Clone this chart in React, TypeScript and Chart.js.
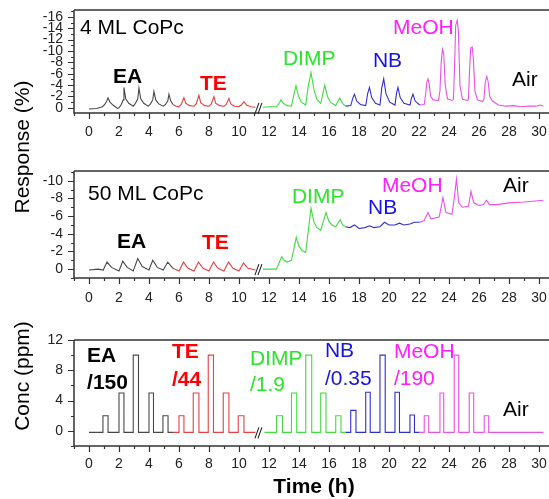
import React, { useEffect, useRef } from "react";
import { Chart, registerables } from "chart.js";
Chart.register(...registerables);

const FONT = "'Liberation Sans', Arial, Helvetica, sans-serif";

// ---------- time axis ----------
const X_MIN = -1;
const X_MAX = 30.67;

// ---------- 4 ML CoPc response (%) ----------
const T4_EA = [0, 0.5, 0.9, 1.05, 1.2, 1.27, 1.4, 1.6, 1.9, 2.0, 2.15, 2.28, 2.33, 2.45, 2.65, 2.95, 3.1, 3.25, 3.33, 3.45, 3.65, 3.95, 4.1, 4.25, 4.33, 4.45, 4.65, 4.95, 5.1, 5.25, 5.33, 5.45, 5.6];
const R4_EA = [0.2, 0.1, -0.2, -0.6, -1.3, -1.75, -1.0, -0.5, 0.1, 0.0, -0.6, -1.4, -3.6, -1.6, -0.8, -0.3, -0.8, -1.6, -3.5, -1.6, -0.8, -0.3, -0.7, -1.4, -2.9, -1.4, -0.7, -0.3, -0.6, -1.2, -2.4, -1.2, -0.6];
const T4_TE = [5.6, 5.8, 6.0, 6.15, 6.33, 6.45, 6.7, 7.0, 7.15, 7.33, 7.45, 7.7, 8.0, 8.15, 8.33, 8.45, 8.7, 9.0, 9.15, 9.33, 9.45, 9.7, 10.0, 10.15, 10.33, 10.5, 10.8, 11.1];
const R4_TE = [-0.6, -0.3, -0.2, -0.6, -1.8, -0.8, -0.4, -0.3, -0.7, -2.2, -0.9, -0.4, -0.3, -0.7, -2.0, -0.8, -0.4, -0.3, -0.6, -1.7, -0.7, -0.3, -0.2, -0.5, -1.1, -0.5, -0.2, -0.1];
const T4_DIMP = [11.6, 12.0, 12.5, 12.7, 12.8, 12.95, 13.2, 13.5, 13.65, 13.8, 13.95, 14.15, 14.45, 14.6, 14.8, 15.0, 15.2, 15.45, 15.6, 15.72, 15.9, 16.1, 16.45, 16.6, 16.72, 16.9, 17.1];
const R4_DIMP = [-0.1, -0.2, -0.2, -0.9, -1.4, -0.8, -0.4, -0.3, -2.2, -3.9, -2.2, -1.0, -0.5, -3.5, -6.2, -3.2, -1.5, -0.8, -2.6, -4.0, -2.0, -1.0, -0.4, -1.2, -1.7, -0.8, -0.3];
const T4_NB = [17.1, 17.45, 17.6, 17.7, 17.85, 18.1, 18.45, 18.58, 18.7, 18.85, 19.1, 19.4, 19.52, 19.65, 19.8, 20.05, 20.4, 20.5, 20.6, 20.75, 21.0, 21.4, 21.5, 21.6, 21.75, 22.05];
const R4_NB = [-0.3, -0.4, -1.8, -2.4, -1.2, -0.6, -0.4, -2.5, -3.6, -1.8, -0.8, -0.5, -3.5, -5.1, -2.5, -1.0, -0.5, -2.5, -3.6, -1.8, -0.8, -0.5, -1.7, -2.4, -1.2, -0.5];
const T4_MEOH = [22.05, 22.35, 22.45, 22.52, 22.6, 22.68, 22.78, 22.95, 23.3, 23.4, 23.48, 23.57, 23.65, 23.75, 23.9, 24.2, 24.3, 24.38, 24.45, 24.55, 24.63, 24.73, 24.9, 25.25, 25.3, 25.37, 25.45, 25.55, 25.63, 25.73, 25.9, 26.25, 26.33, 26.42, 26.52, 26.6, 26.72, 26.9, 27.3, 27.8, 28.3, 28.8, 29.3, 29.8, 30.1, 30.3];
const R4_MEOH = [-0.5, -0.6, -2.5, -4.5, -5.1, -4.2, -2.0, -1.4, -1.3, -3.0, -8.0, -10.3, -9.5, -4.0, -1.6, -1.3, -1.5, -8.0, -14.5, -15.4, -13.5, -4.0, -1.5, -1.3, -1.5, -6.5, -10.5, -10.7, -8.5, -3.0, -1.4, -1.1, -1.5, -4.5, -5.5, -4.8, -2.0, -1.2, -0.5, -0.3, -0.4, -0.2, -0.3, -0.3, -0.5, -0.3];

// ---------- 50 ML CoPc response (%) ----------
const T50_EA = [0, 0.6, 0.95, 1.2, 1.5, 2.0, 2.25, 2.55, 2.95, 3.25, 3.55, 4.0, 4.25, 4.55, 4.95, 5.25, 5.6];
const R50_EA = [0.1, 0.0, 0.1, -0.8, -0.2, 0.2, -0.9, -0.2, 0.2, -1.2, -0.3, 0.1, -1.0, -0.2, 0.1, -0.8, -0.1];
const T50_TE = [5.6, 6.0, 6.3, 6.6, 7.0, 7.3, 7.6, 8.0, 8.3, 8.6, 9.0, 9.3, 9.6, 10.0, 10.3, 10.6, 11.1];
const R50_TE = [-0.1, 0.2, -0.8, -0.1, 0.2, -0.8, -0.1, 0.2, -0.8, -0.1, 0.2, -0.8, -0.1, 0.2, -0.7, -0.1, 0.1];
const T50_DIMP = [11.6, 12.0, 12.5, 12.85, 13.0, 13.2, 13.5, 13.82, 14.0, 14.2, 14.45, 14.8, 15.0, 15.2, 15.45, 15.8, 16.0, 16.2, 16.45, 16.75, 16.9, 17.1];
const R50_DIMP = [0.0, 0.0, 0.0, -1.4, -1.0, -0.8, -1.0, -3.6, -2.6, -2.1, -1.9, -6.9, -5.3, -4.7, -4.4, -6.4, -5.4, -5.0, -4.8, -5.6, -5.0, -4.8];
const T50_NB = [17.1, 17.4, 17.7, 18.0, 18.4, 18.7, 19.0, 19.4, 19.7, 20.0, 20.4, 20.7, 21.0, 21.4, 21.7, 22.05];
const R50_NB = [-4.8, -4.7, -5.0, -4.6, -4.7, -4.9, -4.7, -4.8, -5.3, -5.0, -5.0, -5.2, -5.0, -5.1, -5.3, -5.3];
const T50_MEOH = [22.05, 22.35, 22.6, 22.8, 23.35, 23.6, 23.8, 24.2, 24.35, 24.5, 24.65, 24.9, 25.3, 25.47, 25.65, 26.0, 26.3, 26.5, 26.7, 27.2, 28.0, 29.0, 30.3];
const R50_MEOH = [-5.3, -5.5, -6.4, -5.7, -5.9, -8.1, -6.4, -6.2, -8.0, -10.2, -7.5, -7.0, -7.1, -8.8, -7.5, -7.2, -7.3, -7.8, -7.3, -7.3, -7.5, -7.6, -7.8];

// ---------- concentration (ppm, scaled) ----------
const CONC_BASE = -0.2;
const EA_ON = [0.93, 2.0, 2.95, 4.0, 4.93];
const EA_OFF = [1.27, 2.33, 3.3, 4.3, 5.27];
const EA_LEVEL = [2, 5, 10, 5, 2];
const TE_ON = [6.0, 6.95, 7.95, 8.95, 9.95];
const TE_OFF = [6.33, 7.33, 8.3, 9.33, 10.33];
const TE_LEVEL = [2, 5, 10, 5, 2];
const DIMP_ON = [12.5, 13.5, 14.45, 15.45, 16.45];
const DIMP_OFF = [12.9, 13.85, 14.85, 15.8, 16.8];
const DIMP_LEVEL = [2, 5, 10, 5, 2];
const NB_ON = [17.45, 18.45, 19.4, 20.4, 21.4];
const NB_OFF = [17.8, 18.75, 19.75, 20.7, 21.7];
const NB_LEVEL = [2.7, 5.1, 10, 5.1, 2.1];
const MEOH_ON = [22.35, 23.4, 24.35, 25.35, 26.35];
const MEOH_OFF = [22.65, 23.65, 24.65, 25.65, 26.65];
const MEOH_LEVEL = [2, 5, 10, 5, 2];
// segment spans [start, end] for each gas on the time axis
const SEG_EA = [0, 5.6];
const SEG_TE = [5.6, 11.1];
const SEG_DIMP = [11.7, 17.1];
const SEG_NB = [17.1, 22.0];
const SEG_MEOH = [22.0, 30.3];

const LINE = { EA: "#484848", TE: "#e64040", DIMP: "#40dc40", NB: "#3030cc", MeOH: "#ea50ea" };
const TXT = { EA: "#000000", TE: "#ff0000", DIMP: "#28e628", NB: "#1414e6", MeOH: "#ff1eff", Air: "#000000" };

function zip(ts: number[], vs: number[]) {
  return ts.map((t, i) => ({ x: t, y: vs[i] }));
}
function steps(seg: number[], on: number[], off: number[], lv: number[]) {
  const pts: { x: number; y: number }[] = [{ x: seg[0], y: CONC_BASE }];
  on.forEach((s, i) => {
    pts.push({ x: s, y: CONC_BASE }, { x: s, y: lv[i] }, { x: off[i], y: lv[i] }, { x: off[i], y: CONC_BASE });
  });
  pts.push({ x: seg[1], y: CONC_BASE });
  return pts;
}
function ds(data: any[], color: string) {
  return { data, borderColor: color, borderWidth: 1.1, pointRadius: 0, showLine: true, tension: 0, fill: false };
}

type Ann = { text: string; t: number; v: number; color: string; bold?: boolean };

const PANELS = [
  {
    id: "p1",
    padTop: 10, axisH: 32, padBottom: 354, labelPad: 11,
    yMin: -17.2, yMax: 0.9, reverse: true, yStep: 2, yMinor: 1, yMajor: 2,
    breakY: 0,
    datasets: [
      ds(zip(T4_EA, R4_EA), LINE.EA), ds(zip(T4_TE, R4_TE), LINE.TE), ds(zip(T4_DIMP, R4_DIMP), LINE.DIMP),
      ds(zip(T4_NB, R4_NB), LINE.NB), ds(zip(T4_MEOH, R4_MEOH), LINE.MeOH),
    ],
    anns: [
      { text: "4 ML CoPc", t: -0.6, v: -14.0, color: "#000" },
      { text: "EA", t: 1.6, v: -5.4, color: TXT.EA, bold: true },
      { text: "TE", t: 7.4, v: -4.2, color: TXT.TE, bold: true },
      { text: "DIMP", t: 12.93, v: -8.6, color: TXT.DIMP },
      { text: "NB", t: 18.93, v: -8.2, color: TXT.NB },
      { text: "MeOH", t: 20.27, v: -14.0, color: TXT.MeOH },
      { text: "Air", t: 28.2, v: -4.9, color: TXT.Air },
    ] as Ann[],
  },
  {
    id: "p2",
    padTop: 171, axisH: 30, padBottom: 191, labelPad: 12,
    yMin: -11.1, yMax: 1.0, reverse: true, yStep: 2, yMinor: 1, yMajor: 2,
    breakY: 0,
    datasets: [
      ds(zip(T50_EA, R50_EA), LINE.EA), ds(zip(T50_TE, R50_TE), LINE.TE), ds(zip(T50_DIMP, R50_DIMP), LINE.DIMP),
      ds(zip(T50_NB, R50_NB), LINE.NB), ds(zip(T50_MEOH, R50_MEOH), LINE.MeOH),
    ],
    anns: [
      { text: "50 ML CoPc", t: -0.07, v: -8.5, color: "#000" },
      { text: "EA", t: 1.87, v: -3.07, color: TXT.EA, bold: true },
      { text: "TE", t: 7.53, v: -2.96, color: TXT.TE, bold: true },
      { text: "DIMP", t: 13.53, v: -8.16, color: TXT.DIMP },
      { text: "NB", t: 18.6, v: -6.92, color: TXT.NB },
      { text: "MeOH", t: 19.53, v: -9.4, color: TXT.MeOH },
      { text: "Air", t: 27.6, v: -9.4, color: TXT.Air },
    ] as Ann[],
  },
  {
    id: "p3",
    padTop: 340, axisH: 30, padBottom: 23, labelPad: 10,
    yMin: -2, yMax: 12, reverse: false, yStep: 4, yMinor: 2, yMajor: 4,
    breakY: CONC_BASE,
    datasets: [
      ds(steps(SEG_EA, EA_ON, EA_OFF, EA_LEVEL), LINE.EA), ds(steps(SEG_TE, TE_ON, TE_OFF, TE_LEVEL), LINE.TE),
      ds(steps(SEG_DIMP, DIMP_ON, DIMP_OFF, DIMP_LEVEL), LINE.DIMP), ds(steps(SEG_NB, NB_ON, NB_OFF, NB_LEVEL), LINE.NB),
      ds(steps(SEG_MEOH, MEOH_ON, MEOH_OFF, MEOH_LEVEL), LINE.MeOH),
    ],
    anns: [
      { text: "EA", t: -0.13, v: 9.89, color: TXT.EA, bold: true },
      { text: "/150", t: -0.13, v: 6.32, color: TXT.EA, bold: true },
      { text: "TE", t: 5.53, v: 10.4, color: TXT.TE, bold: true },
      { text: "/44", t: 5.53, v: 6.72, color: TXT.TE, bold: true },
      { text: "DIMP", t: 10.73, v: 9.49, color: TXT.DIMP },
      { text: "/1.9", t: 10.73, v: 6.06, color: TXT.DIMP },
      { text: "NB", t: 15.73, v: 10.55, color: TXT.NB },
      { text: "/0.35", t: 15.73, v: 6.85, color: TXT.NB },
      { text: "MeOH", t: 20.33, v: 10.4, color: TXT.MeOH },
      { text: "/190", t: 20.33, v: 6.85, color: TXT.MeOH },
      { text: "Air", t: 27.6, v: 2.75, color: TXT.Air },
    ] as Ann[],
  },
];

function makePlugin(p: any) {
  return {
    id: "deco_" + p.id,
    afterDraw(chart: any) {
      const { ctx, chartArea: a } = chart;
      const x = chart.scales.x;
      const y = chart.scales.y;
      ctx.save();
      // frame
      ctx.strokeStyle = "#333";
      ctx.lineWidth = 1.5;
      ctx.beginPath();
      ctx.moveTo(a.left, a.top);
      ctx.lineTo(a.right, a.top);
      ctx.moveTo(a.left, a.top);
      ctx.lineTo(a.left, a.bottom);
      ctx.lineTo(a.right, a.bottom);
      ctx.stroke();
      // ticks
      ctx.lineWidth = 1.2;
      ctx.beginPath();
      for (let t = Math.ceil(X_MIN); t <= X_MAX; t += 1) {
        const px = Math.round(x.getPixelForValue(t)) + 0.5;
        const len = t % 2 === 0 ? 6 : 3;
        ctx.moveTo(px, a.bottom);
        ctx.lineTo(px, a.bottom + len);
      }
      const lo = Math.ceil(p.yMin / p.yMinor) * p.yMinor;
      for (let v = lo; v <= p.yMax + 1e-9; v += p.yMinor) {
        const py = Math.round(y.getPixelForValue(v)) + 0.5;
        const len = Math.abs(v % p.yMajor) < 1e-9 ? 6 : 3;
        ctx.moveTo(a.left, py);
        ctx.lineTo(a.left - len, py);
      }
      ctx.stroke();
      // break marks
      const bx = x.getPixelForValue(11.33);
      const by = y.getPixelForValue(p.breakY);
      ctx.lineWidth = 1.1;
      ctx.strokeStyle = "#222";
      ctx.beginPath();
      ctx.moveTo(bx - 4, by + 6);
      ctx.lineTo(bx, by - 5);
      ctx.moveTo(bx - 1, by + 6);
      ctx.lineTo(bx + 3, by - 5);
      ctx.stroke();
      // annotations
      ctx.textAlign = "left";
      ctx.textBaseline = "middle";
      p.anns.forEach((an: Ann) => {
        ctx.font = `${an.bold ? "bold " : ""}21px ${FONT}`;
        ctx.fillStyle = an.color;
        ctx.fillText(an.text, x.getPixelForValue(an.t), y.getPixelForValue(an.v));
      });
      // axis titles
      ctx.fillStyle = "#000";
      ctx.textAlign = "center";
      if (p.id === "p1") {
        ctx.save();
        ctx.translate(23, 147);
        ctx.rotate(-Math.PI / 2);
        ctx.font = `21px ${FONT}`;
        ctx.fillText("Response (%)", 0, 0);
        ctx.restore();
      }
      if (p.id === "p3") {
        ctx.save();
        ctx.translate(23, 376);
        ctx.rotate(-Math.PI / 2);
        ctx.font = `21px ${FONT}`;
        ctx.fillText("Conc (ppm)", 0, 0);
        ctx.restore();
        ctx.font = `bold 21px ${FONT}`;
        ctx.fillText("Time (h)", 314, 487);
      }
      ctx.restore();
    },
  };
}

function buildConfig(p: any): any {
  return {
    type: "scatter",
    data: { datasets: p.datasets },
    options: {
      responsive: false,
      animation: false,
      devicePixelRatio: 1,
      events: [],
      layout: { padding: { top: p.padTop, bottom: p.padBottom, left: 0, right: 0 } },
      plugins: { legend: { display: false }, tooltip: { enabled: false }, title: { display: false } },
      scales: {
        x: {
          type: "linear",
          min: X_MIN,
          max: X_MAX,
          grid: { display: false, drawTicks: false },
          border: { display: false },
          ticks: { stepSize: 2, includeBounds: false, padding: p.labelPad, color: "#222", font: { family: FONT, size: 14 }, maxRotation: 0, autoSkip: false },
          afterFit: (s: any) => {
            s.height = p.axisH;
            s.paddingLeft = 0;
            s.paddingRight = 0;
            s.paddingTop = 0;
            s.paddingBottom = 0;
          },
        },
        y: {
          type: "linear",
          min: p.yMin,
          max: p.yMax,
          reverse: p.reverse,
          grid: { display: false, drawTicks: false },
          border: { display: false },
          ticks: { stepSize: p.yStep, includeBounds: false, padding: 11, color: "#222", font: { family: FONT, size: 14 }, autoSkip: false },
          afterFit: (s: any) => {
            s.width = 74;
            s.paddingTop = 0;
            s.paddingBottom = 0;
            s.paddingLeft = 0;
            s.paddingRight = 0;
          },
        },
      },
    },
    plugins: [makePlugin(p)],
  };
}

function Panel({ cfg }: { cfg: any }) {
  const ref = useRef<HTMLCanvasElement | null>(null);
  useEffect(() => {
    if (!ref.current) return;
    const chart = new Chart(ref.current, buildConfig(cfg));
    return () => chart.destroy();
  }, [cfg]);
  return <canvas ref={ref} width={549} height={499} style={{ position: "absolute", left: 0, top: 0 }} />;
}

export default function App() {
  return (
    <div style={{ position: "absolute", left: 0, top: 0, width: 549, height: 499, overflow: "hidden", background: "#fff" }}>
      {PANELS.map((p) => (
        <Panel key={p.id} cfg={p} />
      ))}
    </div>
  );
}
